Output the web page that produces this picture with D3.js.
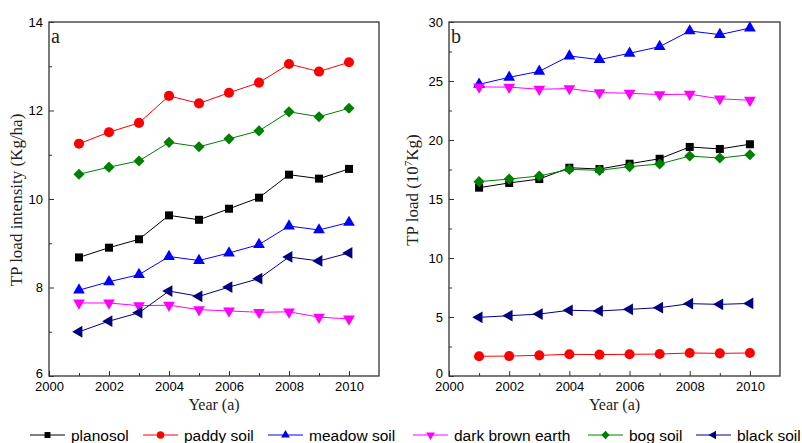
<!DOCTYPE html>
<html>
<head>
<meta charset="utf-8">
<script src="https://cdn.jsdelivr.net/npm/d3@7"></script>
<style>
  body { margin: 0; background: #fff; }
  svg { display: block; }
  .tick text { font-family: "Liberation Sans", Arial, sans-serif; font-size: 13px; fill: #000; }
  .axis path, .axis line { stroke: #333; }
  .ttl { font-family: "Liberation Serif", "Times New Roman", serif; fill: #222; }
  .leg { font-family: "Liberation Sans", Arial, sans-serif; font-size: 15.5px; fill: #000; }
</style>
</head>
<body>
<svg id="chart" width="802" height="443"></svg>
<script>
// years on the x axis
const years = [2001, 2002, 2003, 2004, 2005, 2006, 2007, 2008, 2009, 2010];
const soils = ["planosol", "paddy soil", "meadow soil", "dark brown earth", "bog soil", "black soil"];

// panel a : TP load intensity (Kg/ha)
const intensityPlanosol = [8.68, 8.90, 9.09, 9.63, 9.53, 9.78, 10.03, 10.55, 10.46, 10.68];
const intensityPaddy    = [11.25, 11.51, 11.72, 12.33, 12.16, 12.40, 12.63, 13.05, 12.88, 13.09];
const intensityMeadow   = [7.94, 8.13, 8.29, 8.70, 8.61, 8.78, 8.97, 9.39, 9.30, 9.47];
const intensityDarkBrown= [7.65, 7.65, 7.59, 7.60, 7.50, 7.47, 7.44, 7.45, 7.33, 7.29];
const intensityBog      = [10.56, 10.72, 10.86, 11.28, 11.18, 11.36, 11.54, 11.97, 11.86, 12.05];
const intensityBlack    = [7.00, 7.24, 7.43, 7.92, 7.80, 8.01, 8.20, 8.69, 8.60, 8.78];

// panel b : TP load (10^7 Kg)
const loadPlanosol = [15.96, 16.36, 16.69, 17.65, 17.54, 17.99, 18.41, 19.41, 19.24, 19.64];
const loadPaddy    = [1.67, 1.69, 1.75, 1.84, 1.81, 1.84, 1.86, 1.95, 1.92, 1.95];
const loadMeadow   = [24.72, 25.31, 25.82, 27.12, 26.81, 27.35, 27.91, 29.24, 28.93, 29.49];
const loadDarkBrown= [24.50, 24.48, 24.30, 24.36, 24.02, 23.96, 23.85, 23.88, 23.49, 23.37];
const loadBog      = [16.47, 16.69, 16.95, 17.51, 17.43, 17.74, 17.97, 18.64, 18.47, 18.75];
const loadBlack    = [4.97, 5.11, 5.25, 5.57, 5.51, 5.65, 5.79, 6.13, 6.07, 6.15];

const colors = ["#000000", "#ff0000", "#0000ff", "#ff00ff", "#008000", "#000080"];

// marker shapes in the Origin style
const markers = [
    {type: d3.symbolSquare, size: 64, rot: 0},
    {type: d3.symbolCircle, size: 80, rot: 0},
    {type: d3.symbolTriangle, size: 60, rot: 0},
    {type: d3.symbolTriangle, size: 60, rot: 180},
    {type: d3.symbolSquare, size: 62, rot: 45},
    {type: d3.symbolTriangle, size: 60, rot: -90}
];

const svg = d3.select("#chart");

function drawPanel(p) {
    let x = d3.scaleLinear().domain([2000, 2011]).range([p.left, p.right]),
        y = d3.scaleLinear().domain(p.yDomain).range([376, 22]);

    // frame
    svg.append("rect")
        .attr("x", p.left).attr("y", 22)
        .attr("width", p.right - p.left).attr("height", 376 - 22)
        .attr("fill", "none").attr("stroke", "#333").attr("stroke-width", 1.3);

    // x axis, ticks pointing inwards
    let xg = svg.append("g").attr("class", "axis")
        .attr("transform", "translate(0,376)")
        .call(d3.axisBottom(x).tickValues(d3.range(2000, 2011, 2)).tickSize(-5).tickPadding(6).tickFormat(d3.format("d")));
    xg.select(".domain").remove();
    let xm = svg.append("g").attr("class", "axis")
        .attr("transform", "translate(0,376)")
        .call(d3.axisBottom(x).tickValues(d3.range(2001, 2011, 2)).tickSize(-3).tickFormat(""));
    xm.select(".domain").remove();

    // y axis
    let yg = svg.append("g").attr("class", "axis")
        .attr("transform", "translate(" + p.left + ",0)")
        .call(d3.axisLeft(y).tickValues(p.yTicks).tickSize(-5).tickPadding(6));
    yg.select(".domain").remove();
    // lowest label sits a bit higher, clear of the year labels
    yg.selectAll(".tick text").filter(d => d === p.yDomain[0]).attr("dy", "0.1em");
    let ym = svg.append("g").attr("class", "axis")
        .attr("transform", "translate(" + p.left + ",0)")
        .call(d3.axisLeft(y).tickValues(p.yMinor).tickSize(-3).tickFormat(""));
    ym.select(".domain").remove();

    // axis titles
    let yt = svg.append("text").attr("class", "ttl")
        .attr("transform", "translate(" + p.titleX + "," + p.titleY + ") rotate(-90)")
        .attr("text-anchor", "middle")
        .style("font-size", "17px");
    p.yTitle(yt);

    svg.append("text").attr("class", "ttl")
        .attr("x", (x(2000) + x(2011)) / 2).attr("y", 410)
        .attr("text-anchor", "middle")
        .style("font-size", "16px")
        .text("Year (a)");

    svg.append("text").attr("class", "ttl")
        .attr("x", p.left + 2).attr("y", 43)
        .style("font-size", "20px")
        .text(p.letter);

    let line = d3.line().x((d, i) => x(years[i])).y(d => y(d));

    p.series.forEach(function (s, k) {
        svg.append("path")
            .datum(s)
            .attr("d", line)
            .attr("fill", "none")
            .attr("stroke", colors[k])
            .attr("stroke-width", 1);
    });

    p.series.forEach(function (s, k) {
        let m = markers[k];
        svg.append("g").selectAll("path")
            .data(s)
            .enter().append("path")
            .attr("d", d3.symbol().type(m.type).size(m.size))
            .attr("transform", (d, i) => "translate(" + x(years[i]) + "," + y(d) + ") rotate(" + m.rot + ")")
            .attr("fill", colors[k]);
    });
}

drawPanel({
    left: 49, right: 379,
    yDomain: [6, 14],
    yTicks: [6, 8, 10, 12, 14],
    yMinor: [7, 9, 11, 13],
    titleX: 22, titleY: 200,
    letter: "a",
    yTitle: t => t.text("TP load intensity (Kg/ha)"),
    series: [intensityPlanosol, intensityPaddy, intensityMeadow, intensityDarkBrown, intensityBog, intensityBlack]
});

drawPanel({
    left: 449, right: 780,
    yDomain: [0, 30],
    yTicks: [0, 5, 10, 15, 20, 25, 30],
    yMinor: [2.5, 7.5, 12.5, 17.5, 22.5, 27.5],
    titleX: 418, titleY: 190,
    letter: "b",
    yTitle: function (t) {
        t.append("tspan").text("TP load (10");
        t.append("tspan").attr("baseline-shift", "super").style("font-size", "11px").text("7");
        t.append("tspan").text("Kg)");
    },
    series: [loadPlanosol, loadPaddy, loadMeadow, loadDarkBrown, loadBog, loadBlack]
});

// legend along the bottom
const legendX = [30, 143, 268, 413, 588, 696];
const legendY = 435;
soils.forEach(function (name, k) {
    let g = svg.append("g").attr("transform", "translate(" + legendX[k] + "," + legendY + ")");
    g.append("line").attr("x1", 0).attr("x2", 35).attr("y1", 0).attr("y2", 0)
        .attr("stroke", colors[k]).attr("stroke-width", 1);
    let m = markers[k];
    g.append("path")
        .attr("d", d3.symbol().type(m.type).size(m.size * 0.55))
        .attr("transform", "translate(17.5,0) rotate(" + m.rot + ")")
        .attr("fill", colors[k]);
    g.append("text").attr("class", "leg")
        .attr("x", 41).attr("y", 5.5)
        .text(name);
});
</script>
</body>
</html>
